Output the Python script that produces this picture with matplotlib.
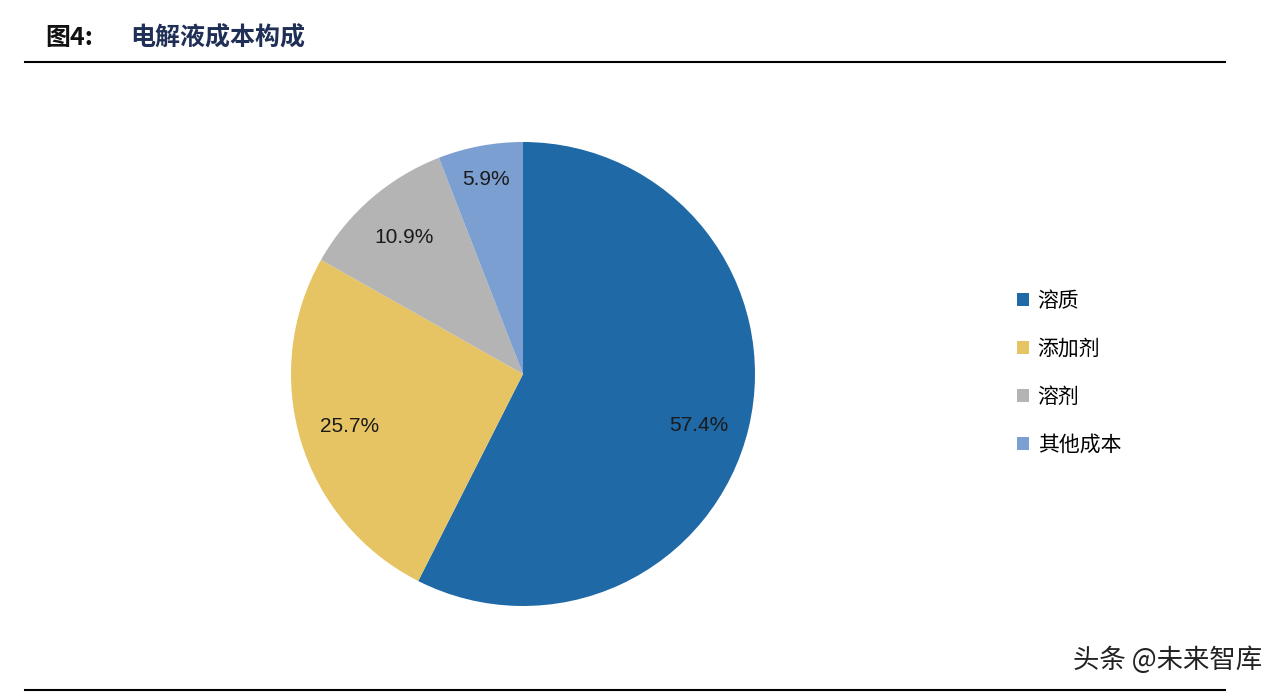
import matplotlib
matplotlib.use("Agg")
import matplotlib.pyplot as plt
from matplotlib.lines import Line2D
from matplotlib.patches import Patch

plt.rcParams['font.family'] = ['Noto Sans CJK SC', 'DejaVu Sans']

labels = ['溶质', '添加剂', '溶剂', '其他成本']
values = [57.4, 25.7, 10.9, 5.9]
colors = ['#1f6aa6', '#e6c463', '#b4b4b4', '#7b9fd1']

W, H = 1282, 698
fig = plt.figure(figsize=(W/100, H/100), dpi=100)

cx, cy, r = 523, 374, 232
ax = fig.add_axes([(cx-r)/W, 1-(cy+r)/H, 2*r/W, 2*r/H])
vals_iter = iter(values)
wedges, texts, autotexts = ax.pie(values, colors=colors, startangle=90, counterclock=False,
                                  autopct=lambda p: f'{next(vals_iter):.1f}%', pctdistance=0.78,
                                  wedgeprops=dict(linewidth=0),
                                  textprops=dict(fontsize=15, color='#1a1a1a', family=['Liberation Sans', 'DejaVu Sans']))
x0, y0 = autotexts[0].get_position()
autotexts[0].set_position((x0, y0 - 0.04))
autotexts[3].set_position((-0.16, 0.84))
ax.set_xlim(-1, 1); ax.set_ylim(-1, 1)
ax.set_aspect('equal')

handles = [Patch(facecolor=c, edgecolor='none') for c in colors]
fig.legend(handles, labels, loc='center left', bbox_to_anchor=(998/W, 1-373/H),
           frameon=False, fontsize=15, handlelength=0.6, handleheight=0.6,
           handletextpad=0.4, labelspacing=1.25)

fig.text(45/W, 1-38/H, '图4:', fontsize=18, fontweight='bold', va='center', ha='left', color='#111111')
fig.text(130/W, 1-38/H, '电解液成本构成', fontsize=18, fontweight='bold', va='center', ha='left', color='#1f2f55')
fig.add_artist(Line2D([25/W, 1225/W], [1-62/H, 1-62/H], color='black', lw=1.5))
fig.add_artist(Line2D([25/W, 1225/W], [1-690/H, 1-690/H], color='black', lw=1.5))
fig.text(1262/W, 1-660/H, '头条 @未来智库', fontsize=19, ha='right', va='center', color='#222222')

fig.savefig('out.png', dpi=100)
